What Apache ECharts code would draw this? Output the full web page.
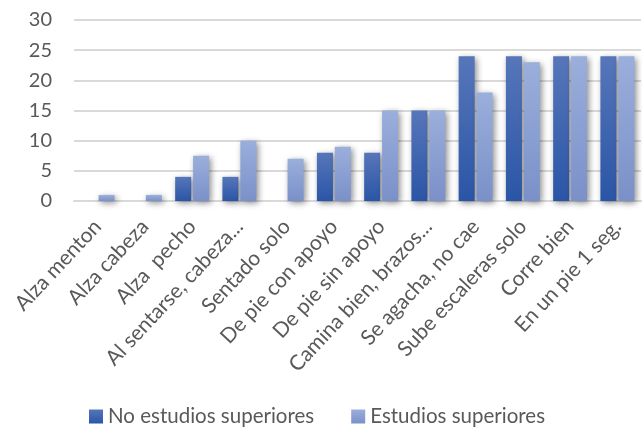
<!DOCTYPE html>
<html>
<head>
<meta charset="utf-8">
<script src="https://cdn.jsdelivr.net/npm/echarts@6/dist/echarts.min.js"></script>
<style>
  html, body { margin: 0; padding: 0; background: #fff; }
  #chart { width: 642px; height: 433px; }
</style>
</head>
<body>
<div id="chart"></div>
<script>
// Motor milestones reached, by parents' education level
const categories = [
  'Alza menton', 'Alza cabeza', 'Alza  pecho', 'Al sentarse, cabeza...',
  'Sentado solo', 'De pie con apoyo', 'De pie sin apoyo', 'Camina bien, brazos...',
  'Se agacha, no cae', 'Sube escaleras solo', 'Corre bien', 'En un pie 1 seg.'
];
const noSuperiores = [0, 0, 4, 4, 0, 8, 8, 15, 24, 24, 24, 24];
const superiores = [1, 1, 7.5, 10, 7, 9, 15, 15, 18, 23, 24, 24];
const seriesNames = ['No estudios superiores', 'Estudios superiores'];

const FONT = 'Lato, "Open Sans", sans-serif';
const TEXT = '#595959';

function grad(top, bottom) {
  return new echarts.graphic.LinearGradient(0, 0, 0, 1, [
    { offset: 0, color: top },
    { offset: 1, color: bottom }
  ]);
}

const shadow = {
  shadowBlur: 6,
  shadowColor: 'rgba(0,0,0,0.45)',
  shadowOffsetX: 2,
  shadowOffsetY: 2
};

const chart = echarts.init(document.getElementById('chart'), null, { renderer: 'canvas' });
chart.setOption({
  animation: false,
  textStyle: { fontFamily: FONT },
  grid: { left: 74, right: 1, top: 20, bottom: 232, containLabel: false },
  legend: {
    left: 84,
    bottom: 1,
    itemWidth: 14,
    itemHeight: 14,
    itemGap: 37,
    icon: 'rect',
    textStyle: { color: TEXT, fontSize: 20.5, fontFamily: FONT },
    data: seriesNames
  },
  xAxis: {
    type: 'category',
    data: categories,
    axisLine: { lineStyle: { color: '#d9d9d9', width: 2 } },
    axisTick: { show: false },
    axisLabel: {
      interval: 0,
      rotate: 47,
      margin: 22,
      color: TEXT,
      fontSize: 21,
      fontFamily: FONT
    }
  },
  yAxis: {
    type: 'value',
    min: 0,
    max: 30,
    interval: 5,
    axisLine: { show: false },
    axisTick: { show: false },
    axisLabel: { color: TEXT, fontSize: 20, fontFamily: FONT, margin: 22 },
    splitLine: { lineStyle: { color: '#d9d9d9', width: 2 } }
  },
  series: [
    {
      name: seriesNames[0],
      type: 'bar',
      data: noSuperiores,
      barWidth: 16,
      barGap: '12%',
      itemStyle: Object.assign({ color: grad('#5776ba', '#2a55a6') }, shadow)
    },
    {
      name: seriesNames[1],
      type: 'bar',
      data: superiores,
      barWidth: 16,
      itemStyle: Object.assign({ color: grad('#9bafdc', '#7a90c8') }, shadow)
    }
  ]
});
</script>
</body>
</html>
